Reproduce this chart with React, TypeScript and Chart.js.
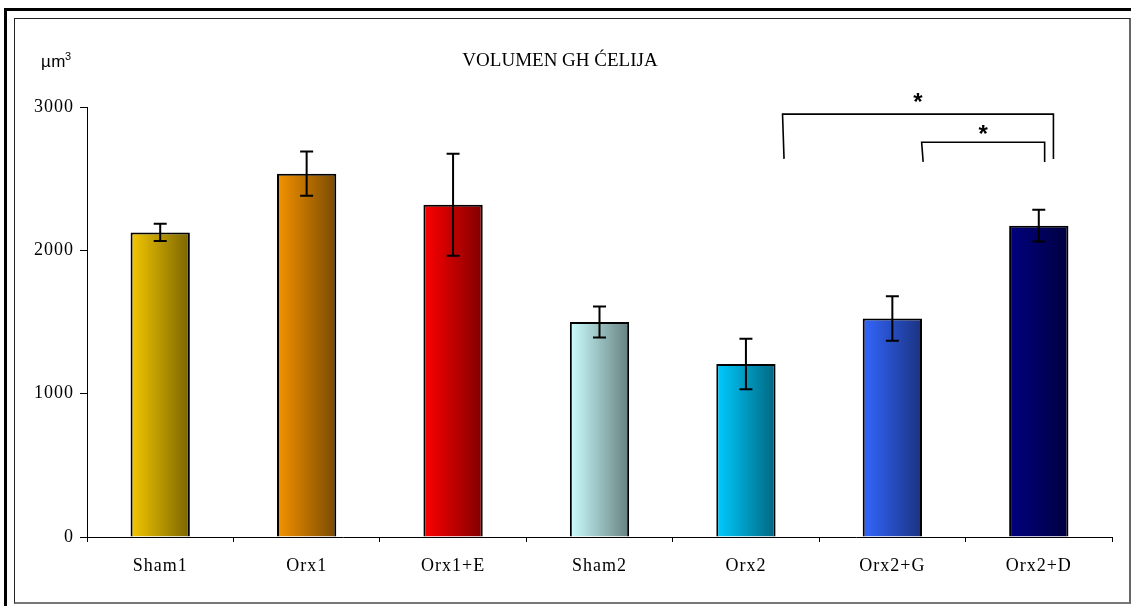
import React, { useEffect, useRef } from "react";
import { Chart, registerables } from "chart.js";

Chart.register(...registerables);

// ---- data ----
const categories = ["Sham1", "Orx1", "Orx1+E", "Sham2", "Orx2", "Orx2+G", "Orx2+D"];
const means = [2125, 2535, 2318, 1500, 1207, 1525, 2172];
const errors = [60, 155, 355, 108, 177, 155, 111];
const lightColors = ["#F5C800", "#F59300", "#FF0000", "#CCFFFF", "#00CCFF", "#3366FF", "#000080"];
const darkColors = ["#7A6400", "#7A4A00", "#800000", "#668080", "#006680", "#1A3380", "#000040"];
const yTickValues = [0, 1000, 2000, 3000];
const yTickLabels = ["0", "1000", "2000", "3000"];
const chartTitle = "VOLUMEN GH ĆELIJA";
const unitLabel = "µm";
const unitSup = "3";

// significance brackets (category-index units and value units)
const bracketFrom = [4.25, 5.2];
const bracketTo = [6.1, 6.04];
const bracketTop = [2950, 2754];
const bracketLegEnd = [2638, 2617];
const starValue = [3025, 2805];
const starText = ["*", "*"];

const SERIF = "'Liberation Serif', 'Times New Roman', serif";
const SANS = "'Liberation Sans', Arial, sans-serif";

const idxToPx = (chart: any, v: number) => {
  const xs = chart.scales.x;
  const step = (xs.right - xs.left) / categories.length;
  return xs.left + (v + 0.5) * step;
};

const decorPlugin = {
  id: "decor",
  beforeDraw(chart: any) {
    (chart.ctx as any).letterSpacing = "1px";
  },
  afterDatasetsDraw(chart: any) {
    const ctx = chart.ctx;
    const ys = chart.scales.y;
    const xs = chart.scales.x;
    ctx.save();
    // error bars
    ctx.strokeStyle = "#000";
    ctx.lineWidth = 2;
    means.forEach((m, i) => {
      const x = xs.getPixelForValue(i);
      const yT = ys.getPixelForValue(m + errors[i]);
      const yB = ys.getPixelForValue(m - errors[i]);
      ctx.beginPath();
      ctx.moveTo(x, yT);
      ctx.lineTo(x, yB);
      ctx.moveTo(x - 6.5, yT);
      ctx.lineTo(x + 6.5, yT);
      ctx.moveTo(x - 6.5, yB);
      ctx.lineTo(x + 6.5, yB);
      ctx.stroke();
    });
    // brackets
    ctx.lineWidth = 1.6;
    bracketFrom.forEach((f, i) => {
      const x1 = idxToPx(chart, f);
      const x2 = idxToPx(chart, bracketTo[i]);
      const yt = ys.getPixelForValue(bracketTop[i]);
      const yl = ys.getPixelForValue(bracketLegEnd[i]);
      ctx.beginPath();
      ctx.moveTo(x1 + 1.5, yl);
      ctx.lineTo(x1, yt);
      ctx.lineTo(x2, yt);
      ctx.lineTo(x2, yl);
      ctx.stroke();
      ctx.fillStyle = "#000";
      ctx.font = `bold 24px ${SANS}`;
      (ctx as any).letterSpacing = "0px";
      ctx.textAlign = "center";
      ctx.textBaseline = "middle";
      ctx.fillText(starText[i], (x1 + x2) / 2, ys.getPixelForValue(starValue[i]));
    });
    ctx.restore();
  },
  afterDraw(chart: any) {
    const ctx = chart.ctx;
    ctx.save();
    ctx.fillStyle = "#000";
    (ctx as any).letterSpacing = "0px";
    ctx.font = `19px ${SERIF}`;
    ctx.textAlign = "center";
    ctx.textBaseline = "middle";
    ctx.fillText(chartTitle, 560, 61);
    (ctx as any).letterSpacing = "0.5px";
    ctx.font = `17px ${SANS}`;
    ctx.textAlign = "left";
    ctx.textBaseline = "alphabetic";
    ctx.fillText(unitLabel, 41, 67);
    const w = ctx.measureText(unitLabel).width;
    ctx.font = `11px ${SANS}`;
    ctx.fillText(unitSup, 40 + w, 60);
    ctx.restore();
  },
};

export default function App() {
  const ref = useRef<HTMLCanvasElement | null>(null);
  useEffect(() => {
    if (!ref.current) return;
    const chart = new Chart(ref.current, {
      type: "bar",
      data: {
        labels: categories,
        datasets: [
          {
            data: means,
            borderColor: "#000",
            borderWidth: 2,
            categoryPercentage: 1,
            barPercentage: 0.405,
            backgroundColor: (c: any) => {
              const chart = c.chart;
              const i = c.dataIndex;
              const xs = chart.scales?.x;
              if (!xs || i === undefined || !chart.chartArea) return lightColors[i ?? 0];
              const x = xs.getPixelForValue(i);
              const half = ((xs.right - xs.left) / categories.length) * 0.405 / 2;
              const g = chart.ctx.createLinearGradient(x - half, 0, x + half, 0);
              g.addColorStop(0, lightColors[i]);
              g.addColorStop(1, darkColors[i]);
              return g;
            },
          },
        ],
      },
      options: {
        responsive: false,
        animation: false,
        layout: { padding: { left: 0, right: 19, top: 107, bottom: 0 } },
        plugins: {
          legend: { display: false },
          title: { display: false },
          tooltip: { enabled: false },
        },
        scales: {
          x: {
            grid: { display: true, drawOnChartArea: false, drawTicks: true, tickLength: 5, color: "#000", offset: true },
            border: { display: true, color: "#000", width: 1 },
            ticks: {
              color: "#000",
              font: { family: SERIF, size: 18 },
              padding: 13,
              maxRotation: 0,
              autoSkip: false,
            },
            afterFit: (s: any) => {
              s.height = 69;
            },
          },
          y: {
            min: 0,
            max: 3000,
            afterBuildTicks: (s: any) => {
              s.ticks = yTickValues.map((v) => ({ value: v }));
            },
            grid: { display: true, drawOnChartArea: false, drawTicks: true, tickLength: 7, color: "#000" },
            border: { display: true, color: "#000", width: 1 },
            ticks: {
              color: "#000",
              font: { family: SERIF, size: 18 },
              padding: 6,
              callback: (v: any) => {
                const k = yTickValues.indexOf(Number(v));
                return k >= 0 ? yTickLabels[k] : String(v);
              },
            },
            afterFit: (s: any) => {
              s.width = 87;
            },
          },
        },
      },
      plugins: [decorPlugin],
    });
    return () => chart.destroy();
  }, []);

  return (
    <div style={{ position: "fixed", left: 0, top: 0, width: 1131, height: 606, background: "#fff", overflow: "hidden" }}>
      <div
        style={{
          position: "absolute",
          left: 4,
          top: 8,
          width: 1200,
          height: 700,
          borderLeft: "3px solid #000",
          borderTop: "3px solid #000",
          boxSizing: "border-box",
        }}
      />
      <div
        style={{
          position: "absolute",
          left: 14,
          top: 18,
          width: 1117,
          height: 586,
          borderLeft: "1px solid #222",
          borderTop: "1px solid #222",
          borderRight: "2px solid #666",
          borderBottom: "2px solid #777",
          boxSizing: "border-box",
        }}
      />
      <canvas ref={ref} width={1131} height={606} style={{ position: "absolute", left: 0, top: 0 }} />
    </div>
  );
}
